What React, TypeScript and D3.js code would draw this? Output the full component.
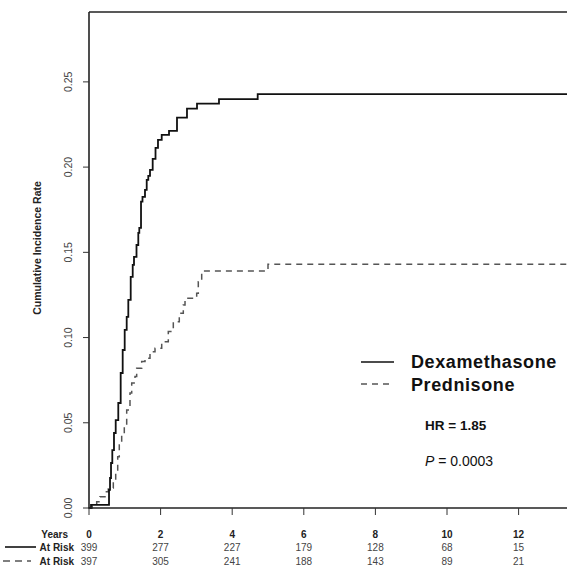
import React from 'react';
import * as d3 from 'd3';

// cumulative incidence (years, rate)
const dexTimes = [0, 0.056, 0.559, 0.587, 0.615, 0.651, 0.698, 0.746, 0.818, 0.885, 0.941, 0.997, 1.053, 1.098, 1.165, 1.221, 1.257, 1.327, 1.377, 1.405, 1.453, 1.494, 1.564, 1.612, 1.656, 1.704, 1.779, 1.858, 1.927, 2.031, 2.235, 2.458, 2.737, 3.017, 3.631, 4.712, 14];
const dexRates = [0, 0.0018, 0.0106, 0.0176, 0.0264, 0.034, 0.044, 0.0516, 0.0616, 0.0792, 0.0927, 0.1045, 0.1121, 0.1221, 0.1356, 0.1426, 0.1473, 0.1543, 0.1614, 0.1643, 0.1798, 0.1825, 0.1866, 0.1925, 0.1948, 0.1984, 0.2048, 0.2113, 0.216, 0.2189, 0.2213, 0.229, 0.2343, 0.2373, 0.2399, 0.2428, 0.2428];

const predTimes = [0, 0.09, 0.215, 0.307, 0.447, 0.539, 0.679, 0.746, 0.802, 0.846, 0.913, 0.986, 1.053, 1.145, 1.193, 1.285, 1.332, 1.472, 1.564, 1.704, 1.844, 2.031, 2.215, 2.355, 2.522, 2.634, 2.682, 3.008, 3.053, 3.148, 5.0, 14];
const predRates = [0, 0.0015, 0.0037, 0.0066, 0.0096, 0.0117, 0.0164, 0.0223, 0.0301, 0.037, 0.0428, 0.0487, 0.0575, 0.0675, 0.0734, 0.0771, 0.082, 0.0859, 0.0879, 0.0917, 0.0937, 0.0976, 0.1035, 0.1093, 0.1143, 0.1191, 0.1231, 0.126, 0.1328, 0.1391, 0.143, 0.143];

const years = [0, 2, 4, 6, 8, 10, 12];
const atRiskDex = [399, 277, 227, 179, 128, 68, 15];
const atRiskPred = [397, 305, 241, 188, 143, 89, 21];
const yTicks = [0, 0.05, 0.1, 0.15, 0.2, 0.25];

const seriesNames = ['Dexamethasone', 'Prednisone'];
const hrText = 'HR = 1.85';
const pValue = '0.0003';

const W = 567;
const H = 569;
const font = 'Arial, "Liberation Sans", Helvetica, sans-serif';

export default function App() {
  const x = d3.scaleLinear().domain([0, 14]).range([89, 89 + 35.8 * 14]);
  const y = d3.scaleLinear().domain([0, 0.291]).range([508, 12]);

  const line = d3
    .line<[number, number]>()
    .x((d) => x(d[0]))
    .y((d) => y(d[1]))
    .curve(d3.curveStepAfter);

  const dexPath = line(dexTimes.map((t, i) => [t, dexRates[i]]) as [number, number][]) || '';
  const predPath = line(predTimes.map((t, i) => [t, predRates[i]]) as [number, number][]) || '';

  const x0 = x(0);
  const y0 = y(0);
  const yTop = y(0.291);

  return (
    <div style={{ position: 'absolute', left: 0, top: 0 }}>
      <svg width={W} height={H} style={{ display: 'block', background: '#fff' }} fontFamily={font}>
        {/* curves */}
        <path d={predPath} fill="none" stroke="#555" strokeWidth={1.5} strokeDasharray="6,5" />
        <path d={dexPath} fill="none" stroke="#111" strokeWidth={1.8} />

        {/* box */}
        <line x1={x0} x2={W + 10} y1={yTop} y2={yTop} stroke="#222" strokeWidth={1.6} />
        <line x1={x0} x2={x0} y1={yTop} y2={y0} stroke="#222" strokeWidth={1.6} />
        <line x1={x0 - 1} x2={W + 10} y1={y0} y2={y0} stroke="#222" strokeWidth={1.6} />

        {/* y axis */}
        {yTicks.map((t) => (
          <g key={t}>
            <line x1={x0 - 6} x2={x0} y1={y(t)} y2={y(t)} stroke="#333" strokeWidth={1} />
            <text
              transform={`translate(72,${y(t)}) rotate(-90)`}
              textAnchor="middle"
              fontSize={10.5}
              fill="#444"
            >
              {t.toFixed(2)}
            </text>
          </g>
        ))}
        <text
          transform="translate(41,248) rotate(-90)"
          textAnchor="middle"
          fontSize={10.5}
          fontWeight="bold"
          fill="#222"
        >
          Cumulative Incidence Rate
        </text>

        {/* x ticks */}
        {years.map((t) => (
          <line key={t} x1={x(t)} x2={x(t)} y1={y0} y2={y0 + 7} stroke="#333" strokeWidth={1} />
        ))}

        {/* at risk table */}
        <text x={68} y={538} textAnchor="end" fontSize={10} fontWeight="bold" fill="#222">Years</text>
        {years.map((t) => (
          <text key={t} x={x(t)} y={538} textAnchor="middle" fontSize={10} fontWeight="bold" fill="#222">{t}</text>
        ))}
        <line x1={5} x2={36} y1={547} y2={547} stroke="#111" strokeWidth={1.6} />
        <text x={74} y={551} textAnchor="end" fontSize={10} fontWeight="bold" fill="#222">At Risk</text>
        {atRiskDex.map((n, i) => (
          <text key={i} x={x(years[i])} y={551} textAnchor="middle" fontSize={10} fill="#444">{n}</text>
        ))}
        <line x1={3} x2={31} y1={561} y2={561} stroke="#555" strokeWidth={1.4} strokeDasharray="7,5" />
        <text x={74} y={565} textAnchor="end" fontSize={10} fontWeight="bold" fill="#222">At Risk</text>
        {atRiskPred.map((n, i) => (
          <text key={i} x={x(years[i])} y={565} textAnchor="middle" fontSize={10} fill="#444">{n}</text>
        ))}

        {/* legend */}
        <line x1={361} x2={394} y1={362} y2={362} stroke="#111" strokeWidth={1.6} />
        <text x={411} y={368} fontSize={18} fontWeight="bold" letterSpacing={0.6} fill="#111">{seriesNames[0]}</text>
        <line x1={361} x2={394} y1={384} y2={384} stroke="#555" strokeWidth={1.5} strokeDasharray="6,5" />
        <text x={411} y={391} fontSize={18} fontWeight="bold" letterSpacing={0.6} fill="#111">{seriesNames[1]}</text>

        <text x={425} y={430} fontSize={13.5} fontWeight="bold" fill="#111">{hrText}</text>
        <text x={425} y={466} fontSize={14} fill="#111">
          <tspan fontStyle="italic">P</tspan>
          <tspan> = {pValue}</tspan>
        </text>
      </svg>
    </div>
  );
}
